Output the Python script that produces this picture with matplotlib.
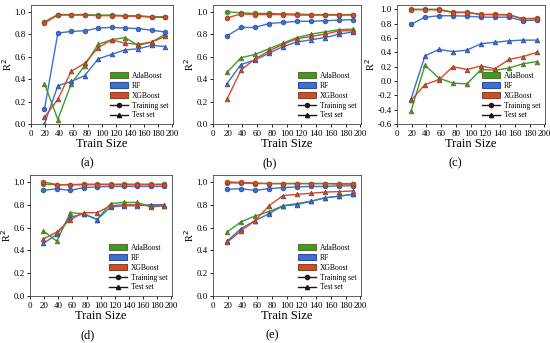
import matplotlib
matplotlib.use("Agg")
import matplotlib.pyplot as plt
from matplotlib.patches import Patch
from matplotlib.lines import Line2D
from matplotlib.ticker import MultipleLocator, FormatStrFormatter

plt.rcParams['font.family'] = ['Liberation Serif', 'DejaVu Serif']

# Train sizes
train_size = [19, 38, 57, 76, 95, 114, 133, 152, 171, 190]
models = ['AdaBoost', 'RF', 'XGBoost']

# (a)
a_train_ada = [0.91, 0.975, 0.975, 0.975, 0.97, 0.97, 0.965, 0.965, 0.955, 0.955]
a_train_rf = [0.13, 0.81, 0.825, 0.83, 0.855, 0.86, 0.855, 0.85, 0.835, 0.82]
a_train_xgb = [0.90, 0.97, 0.97, 0.97, 0.965, 0.965, 0.96, 0.96, 0.95, 0.95]
a_test_ada = [0.36, 0.04, 0.36, 0.52, 0.71, 0.75, 0.77, 0.70, 0.73, 0.80]
a_test_rf = [0.0, 0.34, 0.38, 0.43, 0.58, 0.62, 0.66, 0.67, 0.70, 0.69]
a_test_xgb = [0.06, 0.22, 0.47, 0.54, 0.68, 0.75, 0.72, 0.71, 0.73, 0.78]

# (b)
b_train_ada = [1.0, 0.99, 0.985, 0.985, 0.98, 0.98, 0.975, 0.975, 0.975, 0.975]
b_train_rf = [0.785, 0.86, 0.86, 0.895, 0.905, 0.915, 0.915, 0.92, 0.925, 0.93]
b_train_xgb = [0.945, 0.98, 0.975, 0.975, 0.975, 0.97, 0.97, 0.97, 0.97, 0.97]
b_test_ada = [0.46, 0.59, 0.62, 0.67, 0.72, 0.77, 0.80, 0.82, 0.84, 0.845]
b_test_rf = [0.36, 0.53, 0.57, 0.63, 0.69, 0.73, 0.75, 0.77, 0.80, 0.82]
b_test_xgb = [0.22, 0.48, 0.58, 0.65, 0.71, 0.76, 0.78, 0.80, 0.83, 0.83]

# (c)
c_train_ada = [1.0, 1.0, 1.0, 0.96, 0.96, 0.93, 0.93, 0.925, 0.87, 0.875]
c_train_rf = [0.79, 0.89, 0.91, 0.91, 0.905, 0.89, 0.89, 0.89, 0.84, 0.85]
c_train_xgb = [0.995, 0.995, 0.99, 0.955, 0.955, 0.925, 0.925, 0.92, 0.865, 0.87]
c_test_ada = [-0.42, 0.22, 0.04, -0.03, -0.04, 0.16, 0.15, 0.18, 0.24, 0.27]
c_test_rf = [-0.25, 0.35, 0.44, 0.41, 0.43, 0.52, 0.54, 0.56, 0.57, 0.57]
c_test_xgb = [-0.27, -0.05, 0.02, 0.20, 0.16, 0.21, 0.17, 0.30, 0.34, 0.40]

# (d)
d_train_ada = [0.98, 0.975, 0.975, 0.98, 0.98, 0.98, 0.98, 0.98, 0.98, 0.98]
d_train_rf = [0.925, 0.94, 0.925, 0.95, 0.955, 0.96, 0.96, 0.96, 0.96, 0.96]
d_train_xgb = [1.0, 0.975, 0.975, 0.975, 0.975, 0.975, 0.975, 0.975, 0.975, 0.975]
d_test_ada = [0.57, 0.48, 0.73, 0.72, 0.67, 0.81, 0.82, 0.82, 0.78, 0.79]
d_test_rf = [0.46, 0.54, 0.69, 0.72, 0.67, 0.78, 0.79, 0.79, 0.80, 0.80]
d_test_xgb = [0.50, 0.56, 0.67, 0.73, 0.73, 0.79, 0.80, 0.80, 0.79, 0.79]

# (e)
e_train_ada = [0.99, 0.99, 0.985, 0.985, 0.985, 0.985, 0.985, 0.985, 0.985, 0.985]
e_train_rf = [0.935, 0.94, 0.925, 0.94, 0.95, 0.955, 0.96, 0.96, 0.965, 0.965]
e_train_xgb = [1.0, 0.995, 0.99, 0.985, 0.985, 0.985, 0.985, 0.985, 0.98, 0.98]
e_test_ada = [0.56, 0.65, 0.70, 0.74, 0.79, 0.81, 0.83, 0.86, 0.875, 0.89]
e_test_rf = [0.48, 0.59, 0.66, 0.72, 0.79, 0.80, 0.83, 0.86, 0.875, 0.89]
e_test_xgb = [0.47, 0.57, 0.66, 0.79, 0.88, 0.89, 0.90, 0.91, 0.915, 0.92]

panels = [
    ('(a)', (a_train_ada, a_train_rf, a_train_xgb), (a_test_ada, a_test_rf, a_test_xgb), 0.0),
    ('(b)', (b_train_ada, b_train_rf, b_train_xgb), (b_test_ada, b_test_rf, b_test_xgb), 0.0),
    ('(c)', (c_train_ada, c_train_rf, c_train_xgb), (c_test_ada, c_test_rf, c_test_xgb), -0.6),
    ('(d)', (d_train_ada, d_train_rf, d_train_xgb), (d_test_ada, d_test_rf, d_test_xgb), 0.0),
    ('(e)', (e_train_ada, e_train_rf, e_train_xgb), (e_test_ada, e_test_rf, e_test_xgb), 0.0),
]

colors = ['#33a02c', '#3f6fcf', '#d9482b']
edges = ['#6b6a2a', '#2f4f9f', '#7a4a2a']

W, H = 550, 343
# axes boxes in pixels: left, top, right, bottom
boxes = [(31, 5, 173, 124), (213, 5, 361, 124), (397, 5, 545, 124),
         (30, 175, 172, 296), (213, 175, 361, 296)]
label_x = [87, 270, 455, 88, 272]

fig = plt.figure(figsize=(W / 100, H / 100), dpi=100)

for (tag, trains, tests, ymin), (l, t, r, b), lx in zip(panels, boxes, label_x):
    ax = fig.add_axes([l / W, 1 - b / H, (r - l) / W, (b - t) / H])
    for vals, c, ec in zip(tests, colors, edges):
        ax.plot(train_size, vals, '-', color=c, lw=1.0, marker='^', ms=3.3,
                mfc=c, mec=ec, mew=0.6)
    for vals, c, ec in zip(trains, colors, edges):
        ax.plot(train_size, vals, '-', color=c, lw=1.0, marker='o', ms=3.3,
                mfc=c, mec=ec, mew=0.6)
    ax.set_xlim(0, 201)
    ax.set_ylim(ymin, 1.06)
    ax.xaxis.set_major_locator(MultipleLocator(20))
    ax.yaxis.set_major_locator(MultipleLocator(0.2))
    ax.yaxis.set_major_formatter(FormatStrFormatter('%.1f'))
    ax.tick_params(direction='out', length=2.5, width=0.6, labelsize=6.5, pad=1.5)
    for s in ax.spines.values():
        s.set_linewidth(0.6)
        s.set_color('#444444')
    ax.set_xlabel('Train Size', fontsize=9, labelpad=0)
    ax.set_ylabel('R$^2$', fontsize=7.5, labelpad=0)

    handles = [Patch(facecolor=c, edgecolor=ec, lw=0.8, label=m)
               for m, c, ec in zip(models, colors, edges)]
    handles.append(Line2D([], [], color='#2a1515', lw=1, marker='o', ms=3, label='Training set'))
    handles.append(Line2D([], [], color='#151515', lw=1, marker='^', ms=3, label='Test set'))
    ax.legend(handles=handles, loc='lower right', frameon=False, fontsize=5.5,
              handlelength=2.4, handleheight=0.9, labelspacing=0.25,
              handletextpad=0.5, borderaxespad=0.2)

    fig.text(lx / W, 1 - (b + 39) / H, tag, fontsize=9, ha='center', va='center')

fig.savefig('out.png', dpi=100)
